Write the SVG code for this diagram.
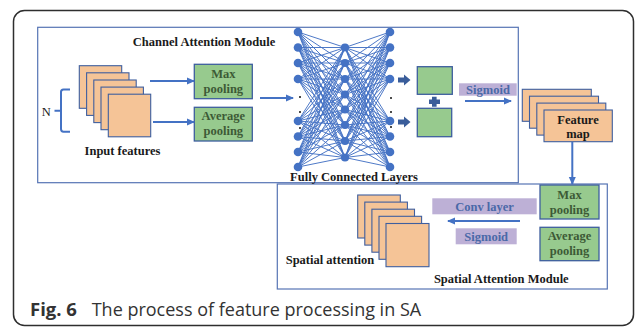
<svg xmlns="http://www.w3.org/2000/svg" width="637" height="328" viewBox="0 0 637 328">
  <style>
    .lbl { font-family: "Liberation Serif", "Times New Roman", serif; font-weight: bold; font-size: 12.5px; fill: #1a1a1a; }
    .glbl { font-family: "Liberation Serif", "Times New Roman", serif; font-weight: bold; font-size: 12.5px; fill: #3d5a36; text-anchor: middle; }
    .plbl { font-family: "Liberation Serif", "Times New Roman", serif; font-weight: bold; font-size: 12.5px; fill: #4a69a8; text-anchor: middle; }
    .mod { fill: #ffffff; stroke: #5674b4; stroke-width: 1.2; }
    .sheet { fill: #f5c497; stroke: #3f5f9f; stroke-width: 1.1; }
    .pool { fill: #97ca8e; stroke: #3d5e9e; stroke-width: 1.3; }
    .tag { fill: #bdb0d6; }
    .arrow { fill: none; stroke: #4472c4; stroke-width: 2; marker-end: url(#ah); }
    .edge { fill: none; stroke: #4472c4; stroke-width: 0.95; }
    .neuron { fill: #4472c4; }
    .dot { fill: #111; }
    .block { fill: #3a5d9a; }
  </style>
  <defs>
    <marker id="ah" markerWidth="8" markerHeight="8" refX="7" refY="4" orient="auto" markerUnits="userSpaceOnUse">
      <path d="M0,0.5 L8,4 L0,7.5 z" fill="#4472c4"/>
    </marker>
  </defs>

  <rect width="637" height="328" fill="#ffffff"/>
  <!-- outer figure frame -->
  <rect x="13.5" y="10.5" width="620" height="315" rx="11" fill="none" stroke="#2e2e2e" stroke-width="1.5"/>

  <!-- module frames -->
  <g id="channel-module">
    <rect class="mod" x="37.7" y="27.3" width="480.6" height="155.4"/>
    <text class="lbl" x="204" y="46" text-anchor="middle">Channel Attention Module</text>
  </g>
  <g id="spatial-module">
    <rect class="mod" x="277.3" y="184" width="330" height="105"/>
    <text class="lbl" x="501.3" y="282.5" text-anchor="middle">Spatial Attention Module</text>
  </g>

  <!-- input feature stack -->
  <g id="input-features">
    <rect class="sheet" x="79.3" y="65.7" width="42.4" height="42.6"/>
    <rect class="sheet" x="86.6" y="72.8" width="42.4" height="42.6"/>
    <rect class="sheet" x="93.8" y="80" width="42.4" height="42.6"/>
    <rect class="sheet" x="101" y="87.1" width="42.4" height="42.6"/>
    <rect class="sheet" x="108.3" y="94.2" width="42.4" height="42.6"/>
    <text class="lbl" x="122.5" y="155" text-anchor="middle">Input features</text>
  </g>

  <g id="n-bracket">
    <path d="M70,89.5 H63.5 Q61,89.5 61,92 V129 Q61,131.7 63.5,131.7 H70 M61,110.7 H54.5" fill="none" stroke="#4472c4" stroke-width="2"/>
    <text x="41.7" y="116" font-family="'Liberation Serif', 'Times New Roman', serif" font-size="12.5" fill="#1a1a1a">N</text>
  </g>

  <g id="ch-max-pooling">
    <rect class="pool" x="194.3" y="64.3" width="58" height="34.4"/>
    <text class="glbl" x="223.3" y="77.5">Max</text>
    <text class="glbl" x="223.3" y="92.5">pooling</text>
  </g>
  <g id="ch-avg-pooling">
    <rect class="pool" x="194.3" y="107.3" width="58" height="33.7"/>
    <text class="glbl" x="223.3" y="120">Average</text>
    <text class="glbl" x="223.3" y="135">pooling</text>
  </g>

  <!-- fully connected layers -->
  <g id="fully-connected">
    <path class="edge" d="M298 32L345 47.5M298 32L345 63M298 32L345 79M298 32L345 94.5M298 32L345 109.5M298 32L345 125M298 32L345 141M298 32L345 157.5
M298 47.5L345 47.5M298 47.5L345 63M298 47.5L345 79M298 47.5L345 94.5M298 47.5L345 109.5M298 47.5L345 125M298 47.5L345 141M298 47.5L345 157.5
M298 63L345 47.5M298 63L345 63M298 63L345 79M298 63L345 94.5M298 63L345 109.5M298 63L345 125M298 63L345 141M298 63L345 157.5
M298 79L345 47.5M298 79L345 63M298 79L345 79M298 79L345 94.5M298 79L345 109.5M298 79L345 125M298 79L345 141M298 79L345 157.5
M298 121L345 47.5M298 121L345 63M298 121L345 79M298 121L345 94.5M298 121L345 109.5M298 121L345 125M298 121L345 141M298 121L345 157.5
M298 136.5L345 47.5M298 136.5L345 63M298 136.5L345 79M298 136.5L345 94.5M298 136.5L345 109.5M298 136.5L345 125M298 136.5L345 141M298 136.5L345 157.5
M298 152L345 47.5M298 152L345 63M298 152L345 79M298 152L345 94.5M298 152L345 109.5M298 152L345 125M298 152L345 141M298 152L345 157.5
M298 167L345 47.5M298 167L345 63M298 167L345 79M298 167L345 94.5M298 167L345 109.5M298 167L345 125M298 167L345 141M298 167L345 157.5
M345 47.5L390 32M345 47.5L390 47.5M345 47.5L390 63M345 47.5L390 79M345 47.5L390 121M345 47.5L390 136.5M345 47.5L390 152M345 47.5L390 167
M345 63L390 32M345 63L390 47.5M345 63L390 63M345 63L390 79M345 63L390 121M345 63L390 136.5M345 63L390 152M345 63L390 167
M345 79L390 32M345 79L390 47.5M345 79L390 63M345 79L390 79M345 79L390 121M345 79L390 136.5M345 79L390 152M345 79L390 167
M345 94.5L390 32M345 94.5L390 47.5M345 94.5L390 63M345 94.5L390 79M345 94.5L390 121M345 94.5L390 136.5M345 94.5L390 152M345 94.5L390 167
M345 109.5L390 32M345 109.5L390 47.5M345 109.5L390 63M345 109.5L390 79M345 109.5L390 121M345 109.5L390 136.5M345 109.5L390 152M345 109.5L390 167
M345 125L390 32M345 125L390 47.5M345 125L390 63M345 125L390 79M345 125L390 121M345 125L390 136.5M345 125L390 152M345 125L390 167
M345 141L390 32M345 141L390 47.5M345 141L390 63M345 141L390 79M345 141L390 121M345 141L390 136.5M345 141L390 152M345 141L390 167
M345 157.5L390 32M345 157.5L390 47.5M345 157.5L390 63M345 157.5L390 79M345 157.5L390 121M345 157.5L390 136.5M345 157.5L390 152M345 157.5L390 167"/>
    <g class="neuron">
      <circle cx="298" cy="32" r="4.3"/><circle cx="298" cy="47.5" r="4.3"/><circle cx="298" cy="63" r="4.3"/><circle cx="298" cy="79" r="4.3"/>
      <circle cx="298" cy="121" r="4.3"/><circle cx="298" cy="136.5" r="4.3"/><circle cx="298" cy="152" r="4.3"/><circle cx="298" cy="167" r="4.3"/>
      <circle cx="345" cy="47.5" r="4.1"/><circle cx="345" cy="63" r="4.1"/><circle cx="345" cy="79" r="4.1"/><circle cx="345" cy="94.5" r="4.1"/>
      <circle cx="345" cy="109.5" r="4.1"/><circle cx="345" cy="125" r="4.1"/><circle cx="345" cy="141" r="4.1"/><circle cx="345" cy="157.5" r="4.1"/>
      <circle cx="390" cy="32" r="4.3"/><circle cx="390" cy="47.5" r="4.3"/><circle cx="390" cy="63" r="4.3"/><circle cx="390" cy="79" r="4.3"/>
      <circle cx="390" cy="121" r="4.3"/><circle cx="390" cy="136.5" r="4.3"/><circle cx="390" cy="152" r="4.3"/><circle cx="390" cy="167" r="4.3"/>
    </g>
    <g class="dot">
      <circle cx="300" cy="97" r="1"/><circle cx="300" cy="112" r="1"/><circle cx="300" cy="128" r="1"/>
      <circle cx="391" cy="98" r="1"/><circle cx="391" cy="112" r="1"/><circle cx="391" cy="127" r="1"/>
    </g>
    <text class="lbl" x="354" y="181" text-anchor="middle">Fully Connected Layers</text>
  </g>

  <!-- channel weight outputs -->
  <g id="fc-outputs">
    <path class="block" d="M398,77.5 H404 V74.5 L410.5,80 L404,85.5 V82.5 H398 z"/>
    <path class="block" d="M398,119.5 H404 V116.5 L410.5,122 L404,127.5 V124.5 H398 z"/>
    <rect class="pool" x="417.3" y="66.7" width="35" height="27.6"/>
    <rect class="pool" x="417.3" y="108.3" width="34.4" height="28.4"/>
    <path class="block" d="M432,96.7 H436.6 V99.4 H440 V104 H436.6 V106.7 H432 V104 H429 V99.4 H432 z"/>
  </g>

  <g id="ch-sigmoid">
    <rect class="tag" x="459" y="83.3" width="57.7" height="12.4"/>
    <text class="plbl" x="488" y="93.5">Sigmoid</text>
  </g>

  <g id="feature-map">
    <rect class="sheet" x="522.3" y="89.3" width="69" height="32"/>
    <rect class="sheet" x="529.5" y="96.2" width="69" height="32"/>
    <rect class="sheet" x="536.8" y="103.1" width="69" height="32"/>
    <rect class="sheet" x="544" y="110" width="68.3" height="31.7"/>
    <text class="lbl" x="578" y="123.5" text-anchor="middle">Feature</text>
    <text class="lbl" x="578" y="137.5" text-anchor="middle">map</text>
  </g>

  <g id="sp-max-pooling">
    <rect class="pool" x="540" y="185" width="59" height="34"/>
    <text class="glbl" x="569.5" y="198.5">Max</text>
    <text class="glbl" x="569.5" y="214">pooling</text>
  </g>
  <g id="sp-avg-pooling">
    <rect class="pool" x="540" y="227.3" width="59" height="33.4"/>
    <text class="glbl" x="569.5" y="240">Average</text>
    <text class="glbl" x="569.5" y="255">pooling</text>
  </g>

  <g id="conv-layer">
    <rect class="tag" x="432.3" y="198.3" width="104.4" height="16"/>
    <text class="plbl" x="484.5" y="210.5">Conv layer</text>
  </g>
  <g id="sp-sigmoid">
    <rect class="tag" x="455.7" y="228.3" width="61" height="16"/>
    <text class="plbl" x="486.2" y="240.5">Sigmoid</text>
  </g>

  <g id="spatial-attention">
    <rect class="sheet" x="357.7" y="195" width="42.6" height="43"/>
    <rect class="sheet" x="364.8" y="202.1" width="42.6" height="43"/>
    <rect class="sheet" x="371.9" y="209.2" width="42.6" height="43"/>
    <rect class="sheet" x="379" y="216.3" width="42.6" height="43"/>
    <rect class="sheet" x="386" y="223.5" width="43" height="43.2"/>
    <text class="lbl" x="285.7" y="263.5">Spatial attention</text>
  </g>

  <!-- connectors -->
  <g id="connectors">
    <path class="arrow" d="M150,81 H194"/>
    <path class="arrow" d="M153,122 H194"/>
    <path class="arrow" d="M260,98 H293"/>
    <path class="arrow" d="M465,101 H511" stroke-width="1.6"/>
    <path class="arrow" d="M572.3,142 V184"/>
    <path class="arrow" d="M520,221 H448"/>
  </g>

  <g id="caption" font-family="'Open Sans', 'Noto Sans', sans-serif" fill="#333333">
    <text x="30" y="316" font-size="18.5" font-weight="bold">Fig. 6</text>
    <text x="91.7" y="316" font-size="18">The process of feature processing in SA</text>
  </g>
</svg>
